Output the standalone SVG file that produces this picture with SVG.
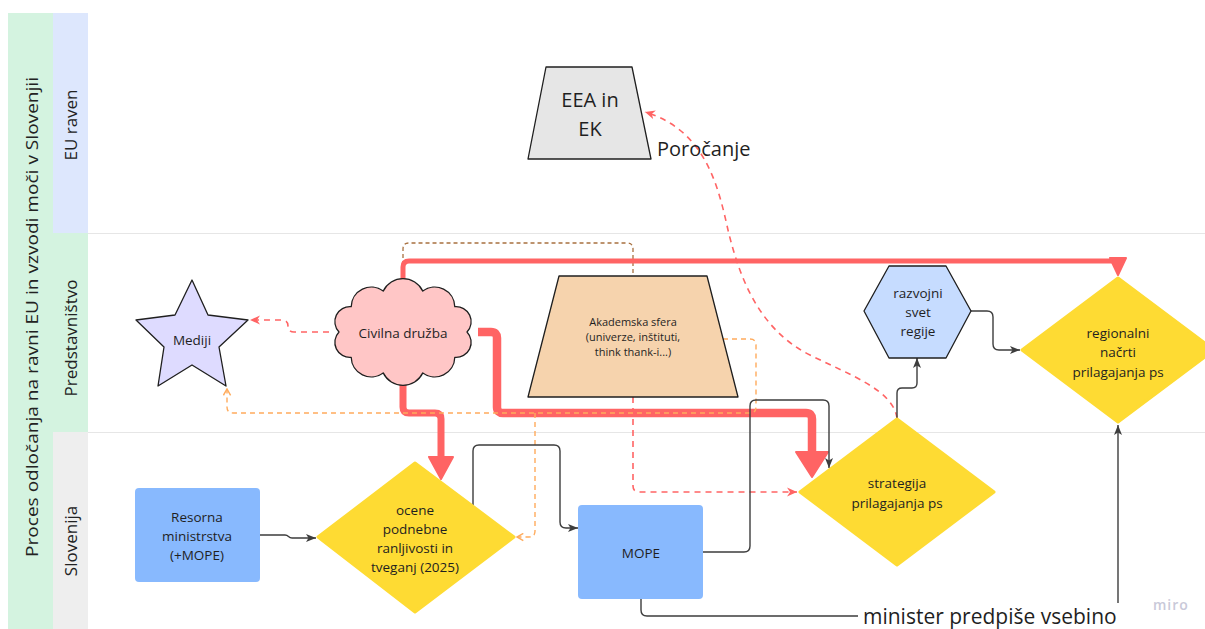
<svg xmlns="http://www.w3.org/2000/svg" width="1205" height="629" viewBox="0 0 1205 629">
  <style>
    .lane { font-family: "Open Sans", "Noto Sans", sans-serif; font-size: 17px; fill: #222; }
    .lbl { font-family: "Open Sans", "Noto Sans", sans-serif; font-size: 13.5px; fill: #1f1f1f; text-anchor: middle; }
    .big { font-family: "Open Sans", "Noto Sans", sans-serif; font-size: 20px; fill: #1f1f1f; }
    .shape { stroke: #1f1f1f; stroke-width: 1.3; stroke-linejoin: round; }
    .dia { fill: #fedb33; stroke: #fedb33; stroke-width: 3; stroke-linejoin: round; }
    .dark { fill: none; stroke: #3d3d3d; stroke-width: 1.4; }
    .thick { fill: none; stroke: #ff6464; stroke-linecap: butt; }
    .head { fill: #ff6464; stroke: #ff6464; stroke-width: 2; stroke-linejoin: round; }
    .rdash { fill: none; stroke: #ff6464; stroke-width: 1.6; stroke-dasharray: 6 5; }
    .odash { fill: none; stroke: #ffab5c; stroke-width: 1.4; stroke-dasharray: 5 4; }
    .bdash { fill: none; stroke: #a8703f; stroke-width: 1.3; stroke-dasharray: 4 3; }
  </style>
  <defs>
    <marker id="arrDark" viewBox="0 0 10 10" refX="10" refY="5" markerWidth="10" markerHeight="10" markerUnits="userSpaceOnUse" orient="auto">
      <path d="M0,1 L10,5 L0,9 L2.5,5 z" fill="#3d3d3d"/>
    </marker>
    <marker id="arrRed" viewBox="0 0 10 10" refX="10" refY="5" markerWidth="10" markerHeight="10" markerUnits="userSpaceOnUse" orient="auto">
      <path d="M0,0.5 L10,5 L0,9.5 L3,5 z" fill="#ff6464"/>
    </marker>
    <marker id="chevOrange" viewBox="0 0 10 10" refX="9" refY="5" markerWidth="9" markerHeight="9" markerUnits="userSpaceOnUse" orient="auto">
      <path d="M2,1 L9,5 L2,9" fill="none" stroke="#ffab5c" stroke-width="1.6"/>
    </marker>
  </defs>

  <rect width="1205" height="629" fill="#ffffff"/>

  <!-- swimlane frame -->
  <g id="lanes">
    <rect x="8" y="13" width="45" height="616" fill="#d4f3e0"/>
    <rect x="53" y="13" width="35" height="220" fill="#dde7fd"/>
    <rect x="53" y="233" width="35" height="199" fill="#d4f3e0"/>
    <rect x="53" y="432" width="35" height="197" fill="#eeeeee"/>
    <line x1="88" y1="233.5" x2="1205" y2="233.5" stroke="#e6e6e6" stroke-width="1.2"/>
    <line x1="88" y1="432.5" x2="1205" y2="432.5" stroke="#e6e6e6" stroke-width="1.2"/>
    <text class="lane" transform="translate(38,317) rotate(-90)" text-anchor="middle" textLength="480" lengthAdjust="spacingAndGlyphs">Proces odločanja na ravni EU in vzvodi moči v Slovenjii</text>
    <text class="lane" transform="translate(77,125) rotate(-90)" text-anchor="middle">EU raven</text>
    <text class="lane" transform="translate(77,338) rotate(-90)" text-anchor="middle">Predstavništvo</text>
    <text class="lane" transform="translate(77,541) rotate(-90)" text-anchor="middle">Slovenija</text>
  </g>

  <!-- connectors -->
  <g id="connectors">
    <!-- brown dashed link between civil society and academia -->
    <path class="bdash" d="M403 279 V249 Q403 243 409 243 H627 Q633 243 633 249 V276"/>

    <!-- thick red influence lines -->
    <path class="thick" stroke-width="5" d="M403 280 V267 Q403 261 409 261 H1118"/>
    <polygon class="head" points="1110,258 1126,258 1118,275"/>

    <path class="thick" stroke-width="7" d="M403 385 V407 Q403 413 409 413 H435 Q441 413 441 419 V462"/>
    <polygon class="head" points="429,457 453,457 441,479"/>

    <path class="thick" stroke-width="8.5" d="M478 332 H491 Q497 332 497 338 V407 Q497 413 503 413 H806 Q812 413 812 419 V456"/>
    <polygon class="head" points="796,452 828,452 812,477"/>

    <!-- dashed red links -->
    <path class="rdash" stroke-width="2" d="M329 332 H294 Q288 332 288 326 Q288 320 282 320 H250" marker-end="url(#arrRed)"/>
    <path class="rdash" d="M897 418 C893 390 850 375 810 355 C760 330 740 280 728 230 C718 185 705 130 645 112" marker-end="url(#arrRed)"/>
    <path class="rdash" stroke-width="1.3" stroke-dasharray="5 4" d="M633 397 V486 Q633 492 639 492 H797" marker-end="url(#arrRed)"/>

    <!-- orange dashed from academia -->
    <path class="odash" d="M723 339 H750 Q756 339 756 345 V407 Q756 413 750 413 H233 Q227 413 227 407 V389" marker-end="url(#chevOrange)"/>
    <path class="odash" d="M535 413 V531 Q535 537 529 537 H517" marker-end="url(#chevOrange)"/>

    <!-- dark process flow -->
    <path class="dark" d="M260 535 H285 C289 535 288 538 292 538 H316" marker-end="url(#arrDark)"/>
    <path class="dark" d="M473 505 V451 Q473 445 479 445 H554 Q560 445 560 451 V522 Q560 528 566 528 H578" marker-end="url(#arrDark)"/>
    <path class="dark" d="M703 552 H744 Q750 552 750 546 V406 Q750 400 756 400 H823 Q829 400 829 406 V468" marker-end="url(#arrDark)"/>
    <path class="dark" d="M897 418 V393 Q897 388 902 388 H912 Q917 388 917 383 V358" marker-end="url(#arrDark)"/>
    <path class="dark" d="M971 311 H987 Q993 311 993 317 V344 Q993 350 999 350 H1020" marker-end="url(#arrDark)"/>
    <path class="dark" d="M641 599 V610 Q641 616 647 616 H858"/>
    <path class="dark" d="M1118 603 V425" marker-end="url(#arrDark)"/>
  </g>

  <!-- nodes -->
  <g id="eea">
    <polygon class="shape" fill="#e6e6e6" points="546,67 632,67 651,159 528,159"/>
    <text class="big" x="590" y="107" text-anchor="middle">EEA in</text>
    <text class="big" x="590" y="136" text-anchor="middle">EK</text>
  </g>
  <g id="porocanje">
    <text class="big" x="657" y="156">Poročanje</text>
  </g>

  <g id="mediji">
    <polygon class="shape" fill="#dedbff" points="192,280 208,315 248,320 219,347 226,386 192,365 158,386 164,347 136,320 175,315"/>
    <text class="lbl" x="192" y="345">Mediji</text>
  </g>

  <g id="civilna">
    <path class="shape" fill="#ffc6c6" d="M467 332 A15 15 0 0 1 454.8 357.3 A20 20 0 0 1 422.8 372.9 A22 22 0 0 1 383.2 372.9 A20 20 0 0 1 351.2 357.3 A15 15 0 0 1 339 332 A15 15 0 0 1 351.2 306.7 A20 20 0 0 1 383.2 291.1 A22 22 0 0 1 422.8 291.1 A20 20 0 0 1 454.8 306.7 A15 15 0 0 1 467 332 Z"/>
    <text class="lbl" x="403" y="338">Civilna družba</text>
  </g>

  <g id="akademska">
    <polygon class="shape" fill="#f6d3ad" points="559,276 707,276 738,397 528,397"/>
    <text class="lbl" style="font-size:11px" x="633" y="326">Akademska sfera</text>
    <text class="lbl" style="font-size:11px" x="633" y="341">(univerze, inštituti,</text>
    <text class="lbl" style="font-size:11px" x="633" y="356">think thank-i...)</text>
  </g>

  <g id="razvojni">
    <polygon class="shape" fill="#c6dcff" points="864,311 889,266 946,266 971,311 946,358 889,358"/>
    <text class="lbl" x="918" y="298">razvojni</text>
    <text class="lbl" x="918" y="317">svet</text>
    <text class="lbl" x="918" y="336">regije</text>
  </g>

  <g id="regionalni">
    <polygon class="dia" points="1118,278 1214,350 1118,422 1022,350"/>
    <text class="lbl" x="1118" y="338">regionalni</text>
    <text class="lbl" x="1118" y="357">načrti</text>
    <text class="lbl" x="1118" y="377">prilagajanja ps</text>
  </g>

  <g id="ocene">
    <polygon class="dia" points="415,463 514,537 415,612 318,537"/>
    <text class="lbl" x="415" y="515">ocene</text>
    <text class="lbl" x="415" y="534">podnebne</text>
    <text class="lbl" x="415" y="553">ranljivosti in</text>
    <text class="lbl" x="415" y="572">tveganj (2025)</text>
  </g>

  <g id="resorna">
    <rect x="135" y="488" width="125" height="94" rx="4" fill="#88b9fe"/>
    <text class="lbl" x="197" y="522">Resorna</text>
    <text class="lbl" x="197" y="541">ministrstva</text>
    <text class="lbl" x="197" y="560">(+MOPE)</text>
  </g>

  <g id="mope">
    <rect x="578" y="505" width="125" height="94" rx="4" fill="#88b9fe"/>
    <text class="lbl" x="641" y="558">MOPE</text>
  </g>

  <g id="strategija">
    <polygon class="dia" points="897,419 994,492 897,565 800,492"/>
    <text class="lbl" x="897" y="488">strategija</text>
    <text class="lbl" x="897" y="508">prilagajanja ps</text>
  </g>

  <g id="minister">
    <text class="big" style="font-size:21px" x="863" y="624">minister predpiše vsebino</text>
  </g>

  <g id="watermark">
    <text x="1153" y="610" font-family="Open Sans, sans-serif" font-size="14" font-weight="600" fill="#c9c9d9" letter-spacing="1">miro</text>
  </g>
</svg>
